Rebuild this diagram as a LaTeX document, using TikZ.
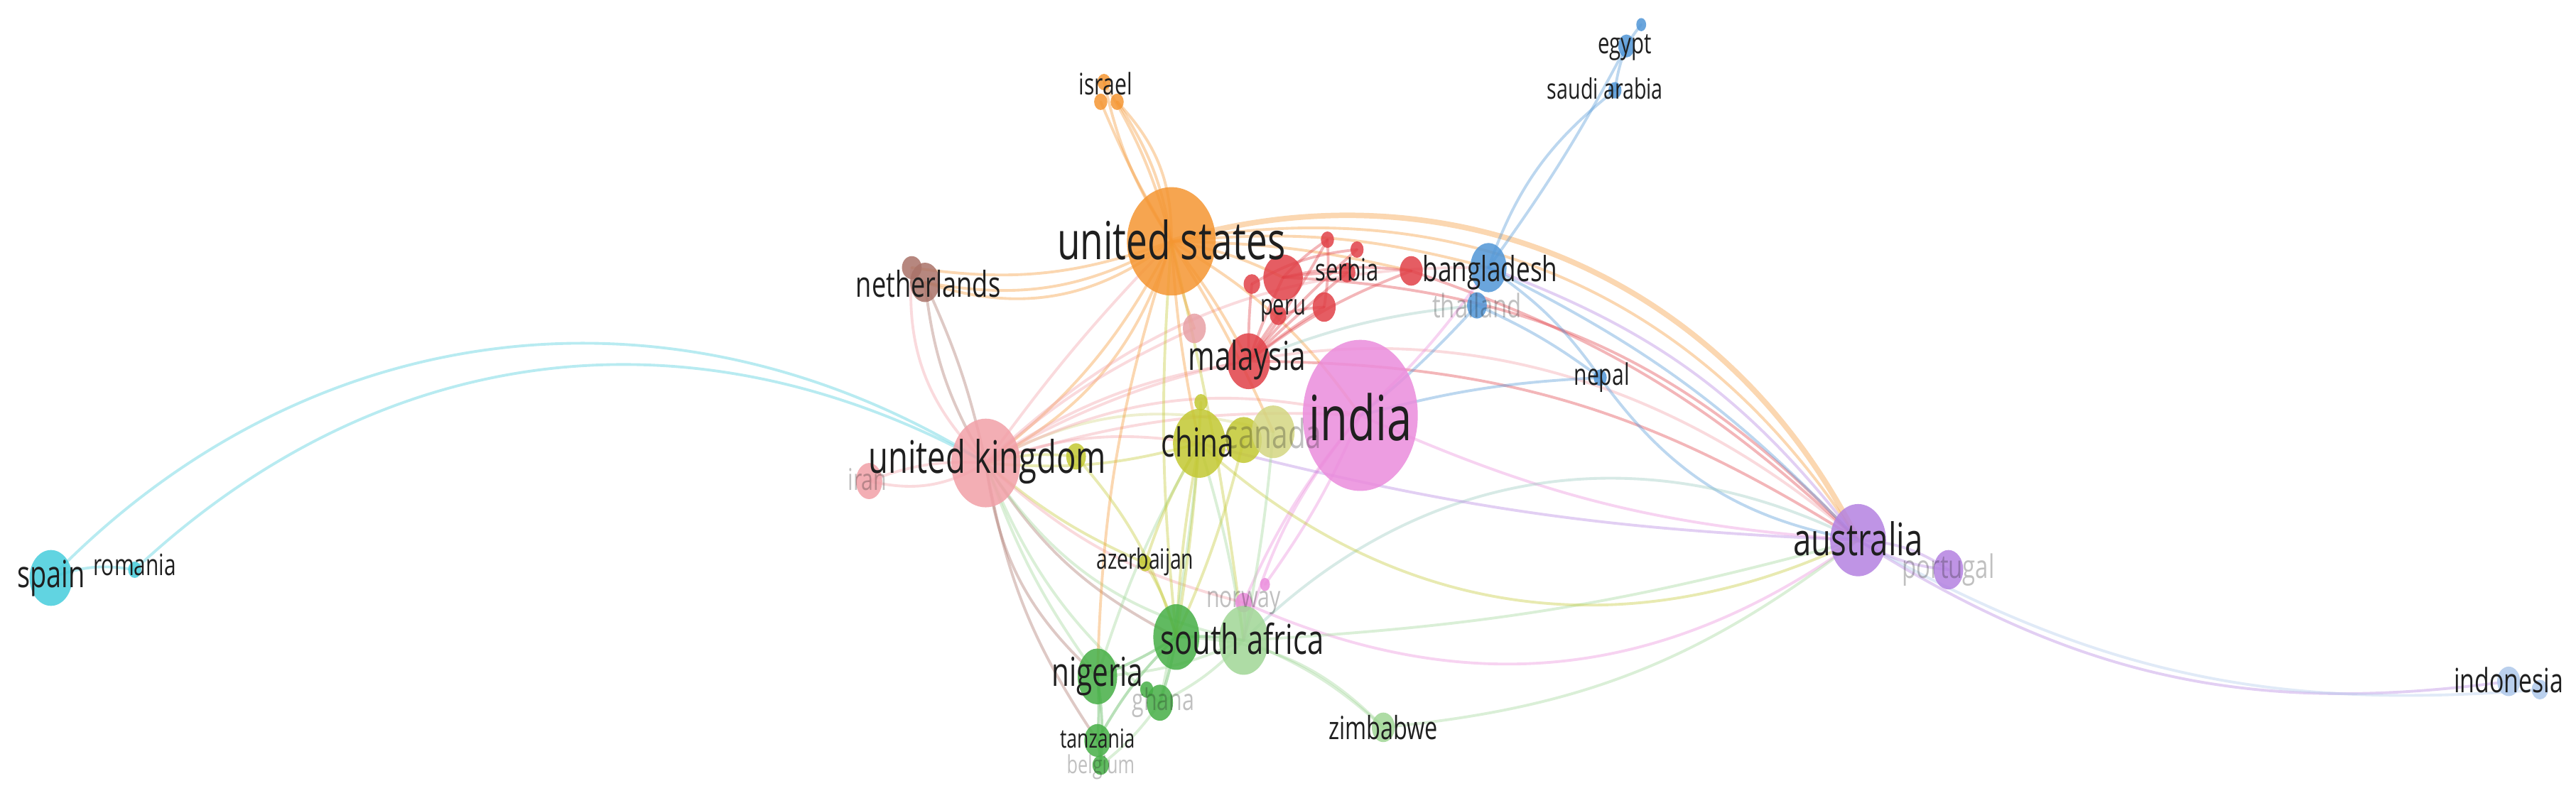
\documentclass[tikz,border=0pt]{standalone}
\usepackage{fontspec}
\usetikzlibrary{shapes.geometric}
\newfontfamily\vos[FakeStretch=0.72]{Open Sans}
\definecolor{cOr}{RGB}{245,150,50}
\definecolor{cPi}{RGB}{235,140,220}
\definecolor{cPu}{RGB}{242,160,168}
\definecolor{cOl}{RGB}{195,200,50}
\definecolor{cOlL}{RGB}{212,214,130}
\definecolor{cRe}{RGB}{225,65,72}
\definecolor{cRl}{RGB}{232,160,165}
\definecolor{cVi}{RGB}{180,130,225}
\definecolor{cGr}{RGB}{70,175,70}
\definecolor{cGl}{RGB}{160,215,150}
\definecolor{cBl}{RGB}{80,150,215}
\definecolor{cBr}{RGB}{170,115,105}
\definecolor{cCy}{RGB}{70,205,220}
\definecolor{cLb}{RGB}{175,200,235}
\definecolor{cTe}{RGB}{150,200,190}
\pgfdeclarelayer{background}
\pgfdeclarelayer{bottom}
\pgfsetlayers{bottom,background,main}
\newcommand\bub[6]{\node[bubble, fill=#6, minimum width={2*#4*0.023125cm}, minimum height={2*#5*0.023125cm}] (#1) at (#2,#3) {};}
\newcommand\lab[5]{\node[lbl, font=\vos\fontsize{#4}{#4}\selectfont] (#1-t) at (#2,#3) {#5};}
\newcommand\flab[5]{\node[lbl, text opacity=0.28, font=\vos\fontsize{#4}{#4}\selectfont] (#1-t) at (#2,#3) {#5};}
\newcommand\ed[4]{\draw[edge,#3] (#1.center) to[#4] (#2.center);}
\tikzset{
  bubble/.style={ellipse, inner sep=0pt, draw=none, fill opacity=0.85},
  lbl/.style={inner sep=0pt, text=black!88},
  edge/.style={line width=1.1pt, draw opacity=0.38, line cap=round},
}
\begin{document}
\begin{tikzpicture}[x=0.023125cm, y=-0.023125cm]
\begin{pgfonlayer}{bottom}
\fill[white] (0,0) rectangle (1568,489);
\end{pgfonlayer}
\useasboundingbox (0,0) rectangle (1568,489);
% ---------- bubbles ----------
\bub{spain}{31}{352}{13}{17}{cCy}
\bub{romania}{82}{347}{4}{5}{cCy}
\bub{iran}{529}{293}{8}{11}{cPu}
\bub{uk}{600}{282}{21}{27}{cPu}
\bub{neth2}{555}{163}{6}{7}{cBr}
\bub{neth}{563}{172}{9}{12}{cBr}
\bub{israel}{672}{50}{4}{5}{cOr}
\bub{israelb}{670}{62}{4}{5}{cOr}
\bub{israelc}{680}{62}{4}{5}{cOr}
\bub{us}{713}{147}{27}{33}{cOr}
\bub{yel}{655}{278}{6}{8}{cOl}
\bub{pinkn}{727}{200}{7}{9}{cRl}
\bub{china}{730}{270}{16}{21}{cOl}
\bub{olsm}{731}{245}{4}{5}{cOl}
\bub{canadaa}{757}{268}{11}{14}{cOl}
\bub{canada}{775}{263}{13}{16}{cOlL}
\bub{malaysia}{760}{220}{13}{17}{cRe}
\bub{reds}{762}{173}{5}{6}{cRe}
\bub{redbig}{781}{169}{12}{14}{cRe}
\bub{peru}{778}{192}{5}{6}{cRe}
\bub{redmid}{806}{187}{7}{9}{cRe}
\bub{serba}{808}{146}{4}{5}{cRe}
\bub{serbb}{826}{152}{4}{5}{cRe}
\bub{serbc}{820}{166}{5}{6}{cRe}
\bub{redb}{859}{165}{7}{9}{cRe}
\bub{india}{828}{253}{35}{46}{cPi}
\bub{bangl}{906}{163}{11}{15}{cBl}
\bub{thai}{899}{186}{6}{8}{cBl}
\bub{nepal}{974}{230}{4}{5}{cBl}
\bub{saudi}{983}{55}{4}{5}{cBl}
\bub{egypt}{990}{28}{5}{7}{cBl}
\bub{egyptb}{999}{15}{3}{4}{cBl}
\bub{aus}{1131}{329}{17}{22}{cVi}
\bub{portugal}{1186}{347}{9}{12}{cVi}
\bub{indo}{1527}{415}{7}{9}{cLb}
\bub{indob}{1546}{420}{5}{6}{cLb}
\bub{azer}{697}{343}{4}{5}{cOl}
\bub{norway}{757}{367}{5}{6}{cPi}
\bub{norwayb}{770}{356}{3}{4}{cPi}
\bub{safrd}{716}{388}{14}{20}{cGr}
\bub{safrl}{757}{390}{15}{21}{cGl}
\bub{nigeria}{668}{412}{12}{17}{cGr}
\bub{ghana}{706}{428}{8}{11}{cGr}
\bub{ghanab}{698}{420}{4}{5}{cGr}
\bub{tanzania}{668}{451}{8}{10}{cGr}
\bub{belgium}{670}{466}{5}{6}{cGr}
\bub{zimbabwe}{842}{443}{7}{9}{cGl}
% ---------- edges ----------
\begin{pgfonlayer}{background}
\ed{spain}{uk}{cCy}{bend left=39}
\ed{romania}{uk}{cCy}{bend left=36}
\ed{spain}{romania}{cCy}{bend left=15}
\ed{uk}{neth}{cBr}{bend left=12}
\ed{uk}{neth}{cBr}{bend right=6}
\ed{uk}{neth2}{cPu}{bend left=25}
\ed{neth}{us}{cOr}{bend right=28}
\ed{neth}{us}{cOr}{bend right=20}
\ed{neth2}{us}{cOr}{bend right=14}
\ed{uk}{us}{cOr}{bend right=12}
\ed{uk}{us}{cOr}{bend right=22}
\ed{uk}{us}{cPu}{bend left=4}
\ed{uk}{iran}{cPu}{bend left=22}
\ed{uk}{iran}{cPu}{bend right=12}
\ed{uk}{yel}{cOl}{bend left=10}
\ed{uk}{china}{cPu}{bend left=14}
\ed{uk}{china}{cOl}{bend right=10}
\ed{uk}{canada}{cOlL}{bend left=22}
\ed{uk}{malaysia}{cPu}{bend left=12}
\ed{uk}{india}{cPu}{bend left=10}
\ed{uk}{india}{cPu}{bend left=20}
\ed{uk}{pinkn}{cPu}{bend left=8}
\ed{uk}{safrd}{cBr}{bend right=15}
\ed{uk}{safrl}{cGl}{bend right=22}
\ed{uk}{nigeria}{cGl}{bend right=8}
\ed{uk}{nigeria}{cBr}{bend right=20}
\ed{uk}{ghana}{cGl}{bend right=14}
\ed{uk}{tanzania}{cBr}{bend right=12}
\ed{uk}{azer}{cOl}{bend right=8}
\ed{uk}{norway}{cPu}{bend right=14}
\ed{uk}{aus}{cPu}{bend left=36}
\ed{uk}{bangl}{cPu}{bend left=22}
\ed{us}{israel}{cOr}{bend left=10}
\ed{us}{israel}{cOr}{bend right=8}
\ed{us}{israelb}{cOr}{bend left=4}
\ed{us}{israelc}{cOr}{bend right=12}
\ed{us}{israelc}{cOr}{bend right=22}
\draw[edge, cOr, line width=2.2pt] (us.center) to[bend left=40] (aus.center);
\ed{us}{aus}{cOr}{bend left=34}
\ed{us}{bangl}{cOr}{bend left=10}
\ed{us}{india}{cOr}{bend left=12}
\ed{us}{malaysia}{cOr}{bend left=5}
\ed{us}{china}{cOr}{bend right=4}
\ed{us}{canada}{cOr}{bend left=4}
\ed{us}{safrd}{cOl}{bend right=5}
\ed{us}{safrl}{cOl}{bend left=3}
\ed{us}{nigeria}{cOr}{bend right=8}
\ed{us}{redbig}{cOr}{bend left=8}
\ed{us}{redb}{cOr}{bend left=6}
\ed{us}{pinkn}{cOr}{bend right=5}
\ed{malaysia}{redbig}{cRe}{bend left=3}
\ed{malaysia}{serba}{cRe}{bend right=4}
\ed{malaysia}{serbb}{cRe}{bend left=4}
\ed{malaysia}{serbc}{cRe}{bend left=2}
\ed{malaysia}{redmid}{cRe}{bend left=3}
\ed{malaysia}{peru}{cRe}{bend left=3}
\ed{malaysia}{redb}{cRe}{bend left=8}
\ed{malaysia}{reds}{cRe}{bend left=3}
\ed{redbig}{serba}{cRe}{bend left=6}
\ed{redbig}{serbc}{cRe}{bend left=4}
\ed{redbig}{redb}{cRe}{bend left=10}
\ed{reds}{serbb}{cRe}{bend left=12}
\ed{peru}{redmid}{cRe}{bend left=6}
\ed{redmid}{serba}{cRe}{bend right=6}
\ed{malaysia}{aus}{cRe}{bend left=16}
\ed{redb}{aus}{cRe}{bend left=12}
\ed{redbig}{aus}{cRe}{bend left=22}
\ed{malaysia}{thai}{cTe}{bend left=8}
\ed{india}{aus}{cPi}{bend right=10}
\ed{india}{bangl}{cPi}{bend right=6}
\ed{india}{nepal}{cBl}{bend left=6}
\ed{india}{thai}{cBl}{bend right=4}
\ed{india}{norway}{cPi}{bend right=8}
\ed{norwayb}{india}{cPi}{bend right=6}
\ed{india}{safrl}{cPi}{bend right=12}
\ed{aus}{indo}{cVi}{bend right=20}
\ed{aus}{indob}{cLb}{bend right=17}
\ed{aus}{portugal}{cVi}{bend left=15}
\ed{aus}{portugal}{cVi}{bend right=12}
\ed{bangl}{aus}{cVi}{bend left=16}
\ed{bangl}{aus}{cBl}{bend left=10}
\ed{nepal}{aus}{cBl}{bend right=22}
\ed{bangl}{nepal}{cBl}{bend left=10}
\ed{thai}{nepal}{cBl}{bend left=6}
\ed{bangl}{saudi}{cBl}{bend left=16}
\ed{bangl}{egypt}{cBl}{bend right=4}
\ed{saudi}{egypt}{cBl}{bend left=6}
\ed{egypt}{egyptb}{cBl}{bend left=4}
\ed{safrl}{aus}{cTe}{bend left=36}
\ed{norway}{aus}{cPi}{bend right=30}
\ed{zimbabwe}{aus}{cGl}{bend right=16}
\ed{safrl}{aus}{cGl}{bend right=6}
\ed{safrl}{zimbabwe}{cGl}{bend left=10}
\ed{safrd}{zimbabwe}{cGl}{bend left=22}
\ed{china}{aus}{cOl}{bend right=34}
\ed{china}{aus}{cVi}{bend right=6}
\ed{china}{safrd}{cOl}{bend right=4}
\ed{china}{safrl}{cGl}{bend left=4}
\ed{china}{nigeria}{cGl}{bend right=6}
\ed{china}{azer}{cOl}{bend right=6}
\ed{china}{ghana}{cGl}{bend left=3}
\ed{canada}{safrl}{cGl}{bend left=3}
\ed{canadaa}{safrd}{cOl}{bend left=5}
\ed{olsm}{safrd}{cOl}{bend left=3}
\ed{safrd}{nigeria}{cGr}{bend left=6}
\ed{safrd}{ghana}{cGr}{bend left=4}
\ed{safrd}{tanzania}{cGr}{bend right=8}
\ed{safrl}{nigeria}{cGl}{bend left=10}
\ed{safrl}{ghana}{cGl}{bend left=10}
\ed{nigeria}{tanzania}{cGr}{bend left=4}
\ed{nigeria}{belgium}{cGr}{bend left=6}
\ed{tanzania}{belgium}{cGr}{bend left=4}
\ed{ghana}{belgium}{cGl}{bend left=8}
\ed{safrd}{safrl}{cGr}{bend left=6}
\ed{yel}{safrd}{cOl}{bend left=12}
\ed{azer}{safrd}{cOl}{bend left=8}
\ed{norway}{safrl}{cPi}{bend left=6}
\end{pgfonlayer}
% ---------- labels ----------
\lab{us}{713}{146}{21}{united states}
\lab{india}{828}{254}{25}{india}
\lab{uk}{601}{281}{18}{united kingdom}
\lab{china}{729}{269}{16}{china}
\flab{canada}{775}{264}{16}{canada}
\lab{malaysia}{759}{219}{16}{malaysia}
\lab{aus}{1131}{328}{18}{australia}
\flab{portugal}{1186}{347}{13}{portugal}
\lab{safr}{756}{389}{16.5}{south africa}
\lab{nigeria}{668}{412}{16}{nigeria}
\flab{ghana}{708}{428}{12}{ghana}
\lab{tanzania}{668}{450}{10.5}{tanzania}
\flab{belgium}{670}{467}{10}{belgium}
\lab{zimbabwe}{842}{443}{12.8}{zimbabwe}
\flab{norway}{757}{367}{12}{norway}
\lab{azer}{697}{342}{11.2}{azerbaijan}
\flab{iran}{528}{292}{12}{iran}
\lab{neth}{565}{173}{14.3}{netherlands}
\lab{israel}{673}{51}{11.9}{israel}
\lab{bangl}{907}{166}{13.9}{bangladesh}
\flab{thai}{899}{186}{13}{thailand}
\lab{serbia}{820}{164}{12.3}{serbia}
\lab{peru}{781}{189}{11.5}{peru}
\lab{nepal}{975}{230}{11.9}{nepal}
\lab{saudi}{977}{54}{11.3}{saudi arabia}
\lab{egypt}{989}{29}{11.6}{egypt}
\lab{spain}{31}{352}{15}{spain}
\lab{romania}{82}{344}{11.8}{romania}
\lab{indo}{1527}{414}{13.4}{indonesia}
\end{tikzpicture}
\end{document}
